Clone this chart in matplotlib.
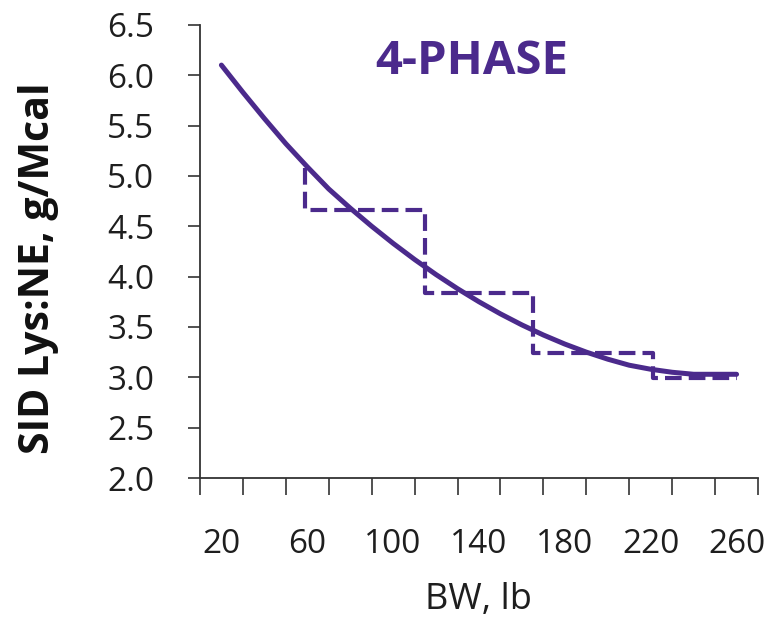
import matplotlib
matplotlib.use('Agg')
import matplotlib.pyplot as plt

# curve: SID Lys:NE requirement vs body weight
bw = [20, 30, 40, 50, 60, 70, 80, 90, 100, 110, 120, 130, 140,
      150, 160, 170, 180, 190, 200, 210, 220, 230, 240, 250, 260]
lys_ne = [6.10, 5.83, 5.57, 5.32, 5.09, 4.87, 4.68, 4.50, 4.33, 4.17, 4.02, 3.88, 3.75,
          3.63, 3.52, 3.42, 3.33, 3.25, 3.18, 3.12, 3.08, 3.05, 3.03, 3.03, 3.03]

# 4-phase feeding program (step line)
phase_bw = [59, 59, 115, 115, 165, 165, 221, 221, 260]
phase_lys = [5.08, 4.66, 4.66, 3.84, 3.84, 3.24, 3.24, 2.99, 2.99]

x_tick_pos = [10, 30, 50, 70, 90, 110, 130, 150, 170, 190, 210, 230, 250, 270]
x_labels = [20, 60, 100, 140, 180, 220, 260]
y_ticks = [2.0, 2.5, 3.0, 3.5, 4.0, 4.5, 5.0, 5.5, 6.0, 6.5]

purple = '#4b2a8c'
txt = '#1e1e1e'
plt.rcParams['font.family'] = ['Open Sans', 'DejaVu Sans']

fig = plt.figure(figsize=(7.81, 6.2), dpi=100)
ax = fig.add_axes([0.256, 0.229, 0.7146, 0.731])

ax.plot(bw, lys_ne, color=purple, lw=3.6, solid_capstyle='round')
ax.plot(phase_bw, phase_lys, color=purple, lw=3.0, dashes=(4, 1.7))

ax.set_xlim(10, 270)
ax.set_ylim(2.0, 6.5)
ax.set_xticks(x_tick_pos)
ax.set_xticklabels([])
ax.set_xticks(x_labels, minor=True)
ax.set_xticklabels([str(v) for v in x_labels], minor=True)
ax.tick_params(axis='x', which='major', direction='out', length=12, width=1.2, color='#333333')
ax.tick_params(axis='x', which='minor', length=0, pad=36, labelsize=24, labelcolor=txt)
ax.set_yticks(y_ticks)
ax.set_yticklabels(['%.1f' % v for v in y_ticks])
ax.tick_params(axis='y', direction='out', length=9, width=1.2, color='#333333',
               pad=24, labelsize=24, labelcolor=txt)

for s in ['top', 'right']:
    ax.spines[s].set_visible(False)
for s in ['left', 'bottom']:
    ax.spines[s].set_linewidth(1.3)
    ax.spines[s].set_color('#333333')

fig.text(39 / 781, 1 - 268 / 620, 'SID Lys:NE, g/Mcal', rotation=90, ha='center', va='center',
         fontsize=29.5, fontweight='bold', color='#111111')
fig.text(478 / 781, 1 - 600 / 620, 'BW, lb', ha='center', va='center', fontsize=26, color=txt)
fig.text(472 / 781, 1 - 62 / 620, '4-PHASE', ha='center', va='center',
         fontsize=34, fontweight='bold', color=purple)

plt.savefig('out.png', dpi=100)
